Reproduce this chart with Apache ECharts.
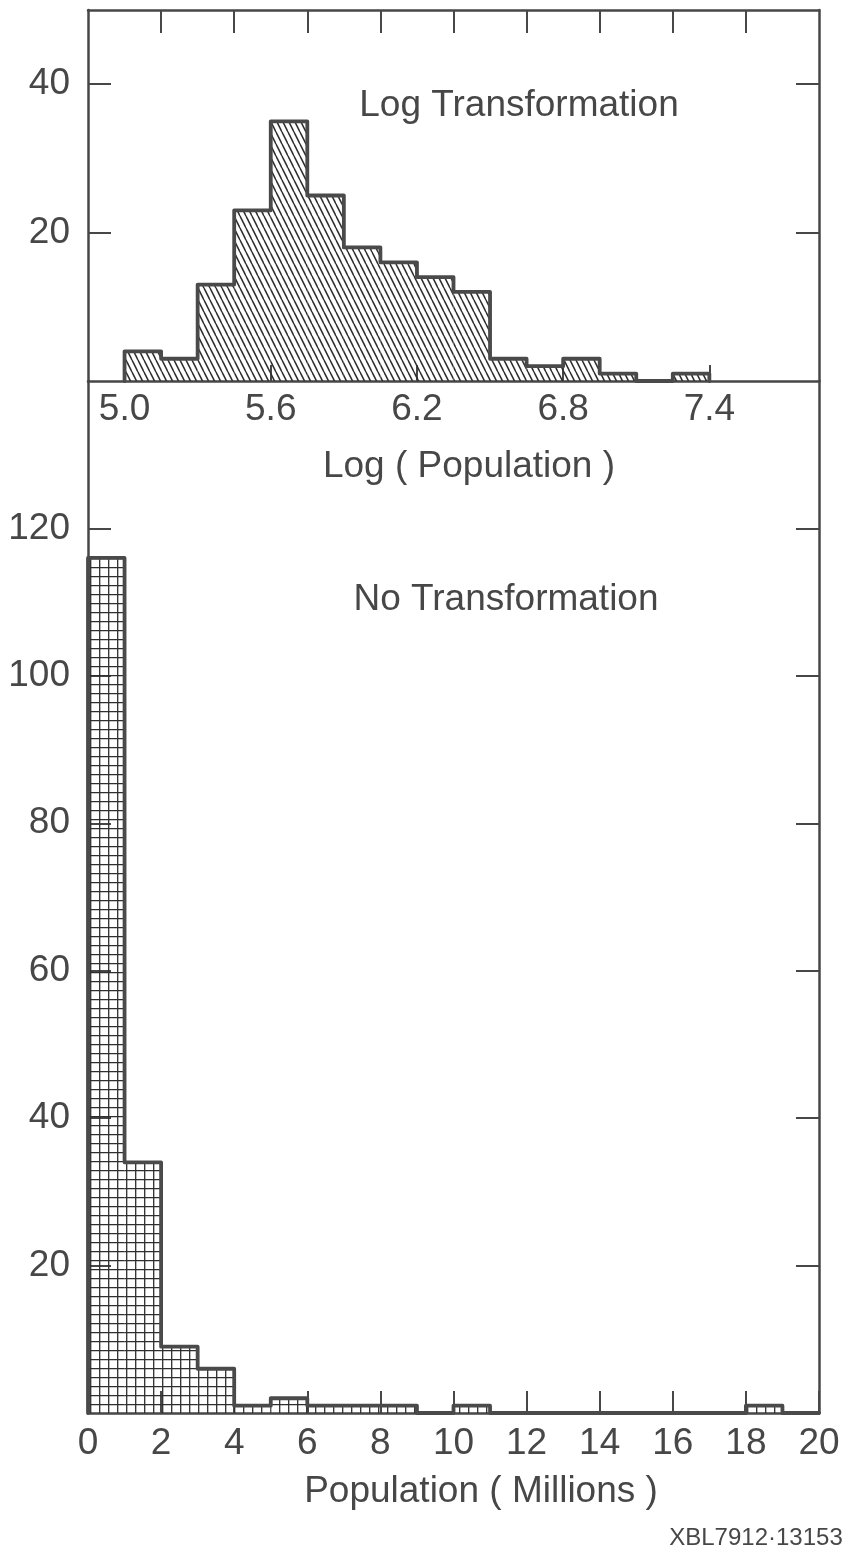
<!DOCTYPE html>
<html><head><meta charset="utf-8">
<script src="https://cdn.jsdelivr.net/npm/echarts@6/dist/echarts.min.js"></script>
<style>html,body{margin:0;padding:0;background:#fff}#c{width:848px;height:1556px}</style>
</head><body><div id="c"></div>
<script>
// ---- Top panel: histogram of Log(Population) ----
const logBinEdges = [5.0, 5.15, 5.3, 5.45, 5.6, 5.75, 5.9, 6.05, 6.2, 6.35, 6.5, 6.65, 6.8, 6.95, 7.1, 7.25, 7.4];
const logCounts   = [4, 3, 13, 23, 35, 25, 18, 16, 14, 12, 3, 2, 3, 1, 0, 1];
const logTickLabels = [5.0, 5.6, 6.2, 6.8, 7.4];
const logTopTicks   = [5.15, 5.45, 5.75, 6.05, 6.35, 6.65, 6.95, 7.25, 7.55];
const logYTicks     = [20, 40];

// ---- Bottom panel: histogram of Population (Millions) ----
const popBinEdges = [0, 1, 2, 3, 4, 5, 6, 7, 8, 9, 10, 11, 12, 13, 14, 15, 16, 17, 18, 19, 20];
const popCounts   = [116, 34, 9, 6, 1, 2, 1, 1, 1, 0, 1, 0, 0, 0, 0, 0, 0, 0, 1, 0];
const popTickLabels = [0, 2, 4, 6, 8, 10, 12, 14, 16, 18, 20];
const popYTicks     = [20, 40, 60, 80, 100, 120];

const INK = '#474747';
const FONT = '"Liberation Sans", Arial, sans-serif';
const FS = 37;

function hatchPattern() {
  const w = 6, h = 12, c = document.createElement('canvas');
  c.width = w; c.height = h;
  const g = c.getContext('2d');
  g.strokeStyle = '#2e2e2e'; g.lineWidth = 1.5;
  for (const dx of [-w, 0, w]) { g.beginPath(); g.moveTo(dx, 0); g.lineTo(dx + w, h); g.stroke(); }
  return c;
}
function gridPattern() {
  const s = 9, c = document.createElement('canvas');
  c.width = s; c.height = s;
  const g = c.getContext('2d');
  g.strokeStyle = '#2e2e2e'; g.lineWidth = 1.3;
  g.beginPath(); g.moveTo(0, 0.7); g.lineTo(s, 0.7); g.moveTo(0.7, 0); g.lineTo(0.7, s); g.stroke();
  return c;
}
function binData(edges, counts) {
  return counts.map((c, i) => [edges[i], edges[i + 1], c]);
}
function outline(edges, counts) {
  const pts = [[edges[0], 0]];
  counts.forEach((c, i) => { pts.push([edges[i], c]); pts.push([edges[i + 1], c]); });
  pts.push([edges[edges.length - 1], 0]);
  return pts;
}
function fillRender(pattern) {
  return function (params, api) {
    const c = api.value(2);
    if (!c) return null;
    const p0 = api.coord([api.value(0), c]);
    const p1 = api.coord([api.value(1), 0]);
    return { type: 'rect', shape: { x: p0[0], y: p0[1], width: p1[0] - p0[0], height: p1[1] - p0[1] },
             style: { fill: { image: pattern, repeat: 'repeat' } } };
  };
}

const lineS = { color: INK, width: 2.5 };
const tickS = { color: INK, width: 2 };
const lbl = { color: INK, fontSize: FS, fontFamily: FONT };

const chart = echarts.init(document.getElementById('c'), null, { renderer: 'canvas' });
chart.setOption({
  animation: false,
  backgroundColor: '#fff',
  grid: [
    { left: 88, top: 10, width: 731, height: 371 },
    { left: 88, top: 381, width: 731, height: 1032 }
  ],
  xAxis: [
    { gridIndex: 0, type: 'value', min: 4.85, max: 7.85, position: 'bottom',
      axisLine: { show: true, onZero: false, lineStyle: lineS },
      axisTick: { show: true, inside: true, length: 16, customValues: logTickLabels, lineStyle: tickS },
      axisLabel: Object.assign({ customValues: logTickLabels, margin: 10, formatter: v => Number(v).toFixed(1) }, lbl),
      splitLine: { show: false } },
    { gridIndex: 0, type: 'value', min: 4.85, max: 7.85, position: 'top',
      axisLine: { show: true, onZero: false, lineStyle: lineS },
      axisTick: { show: true, inside: true, length: 23, customValues: logTopTicks, lineStyle: tickS },
      axisLabel: { show: false }, splitLine: { show: false } },
    { gridIndex: 1, type: 'value', min: 0, max: 20, position: 'bottom',
      axisLine: { show: true, onZero: false, lineStyle: lineS },
      axisTick: { show: true, inside: true, length: 22, customValues: popTickLabels, lineStyle: tickS },
      axisLabel: Object.assign({ customValues: popTickLabels, margin: 12 }, lbl),
      splitLine: { show: false } }
  ],
  yAxis: [
    { gridIndex: 0, type: 'value', min: 0, max: 50, position: 'left',
      axisLine: { show: true, onZero: false, lineStyle: lineS },
      axisTick: { show: true, inside: true, length: 23, customValues: logYTicks, lineStyle: tickS },
      axisLabel: Object.assign({ customValues: logYTicks, margin: 18 }, lbl),
      splitLine: { show: false } },
    { gridIndex: 0, type: 'value', min: 0, max: 50, position: 'right',
      axisLine: { show: true, onZero: false, lineStyle: lineS },
      axisTick: { show: true, inside: true, length: 23, customValues: logYTicks, lineStyle: tickS },
      axisLabel: { show: false }, splitLine: { show: false } },
    { gridIndex: 1, type: 'value', min: 0, max: 140, position: 'left',
      axisLine: { show: true, onZero: false, lineStyle: lineS },
      axisTick: { show: true, inside: true, length: 23, customValues: popYTicks, lineStyle: tickS },
      axisLabel: Object.assign({ customValues: popYTicks, margin: 18 }, lbl),
      splitLine: { show: false } },
    { gridIndex: 1, type: 'value', min: 0, max: 140, position: 'right',
      axisLine: { show: true, onZero: false, lineStyle: lineS },
      axisTick: { show: true, inside: true, length: 23, customValues: popYTicks, lineStyle: tickS },
      axisLabel: { show: false }, splitLine: { show: false } }
  ],
  series: [
    { type: 'custom', xAxisIndex: 0, yAxisIndex: 0, renderItem: fillRender(hatchPattern()),
      data: binData(logBinEdges, logCounts), z: 1, clip: false },
    { type: 'line', xAxisIndex: 0, yAxisIndex: 0, data: outline(logBinEdges, logCounts),
      showSymbol: false, symbol: 'none', clip: false, z: 3,
      lineStyle: { color: '#4a4a4a', width: 3.8, join: 'round', cap: 'round' } },
    { type: 'custom', xAxisIndex: 2, yAxisIndex: 2, renderItem: fillRender(gridPattern()),
      data: binData(popBinEdges, popCounts), z: 1, clip: false },
    { type: 'line', xAxisIndex: 2, yAxisIndex: 2, data: outline(popBinEdges, popCounts),
      showSymbol: false, symbol: 'none', clip: false, z: 3,
      lineStyle: { color: '#4a4a4a', width: 3.8, join: 'round', cap: 'round' } }
  ],
  graphic: [
    { type: 'text', x: 519, y: 106, style: { text: 'Log Transformation', fill: INK, font: FS + 'px ' + FONT, textAlign: 'center', textVerticalAlign: 'middle' } },
    { type: 'text', x: 469, y: 467, style: { text: 'Log ( Population )', fill: INK, font: FS + 'px ' + FONT, textAlign: 'center', textVerticalAlign: 'middle' } },
    { type: 'text', x: 506, y: 600, style: { text: 'No Transformation', fill: INK, font: FS + 'px ' + FONT, textAlign: 'center', textVerticalAlign: 'middle' } },
    { type: 'text', x: 481, y: 1492, style: { text: 'Population ( Millions )', fill: INK, font: FS + 'px ' + FONT, textAlign: 'center', textVerticalAlign: 'middle' } },
    { type: 'text', x: 756, y: 1538, style: { text: 'XBL7912\u00B713153', fill: INK, font: '24px ' + FONT, textAlign: 'center', textVerticalAlign: 'middle' } }
  ]
});
</script></body></html>
